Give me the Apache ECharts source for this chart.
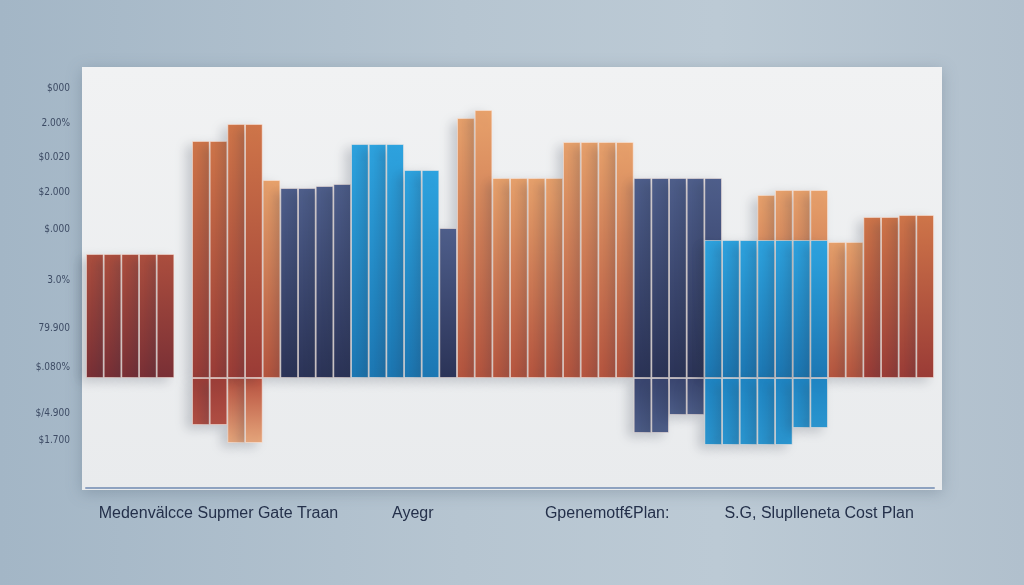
<!DOCTYPE html>
<html><head><meta charset="utf-8">
<script src="https://cdn.jsdelivr.net/npm/echarts@6/dist/echarts.min.js"></script>
<style>
html,body{margin:0;padding:0;width:1024px;height:585px;overflow:hidden;
background:linear-gradient(90deg,#a3b6c6 0%,#b6c5d1 45%,#bccad5 70%,#b1c0cd 100%);}
#c{width:1024px;height:585px;}
</style>
</head><body><div id="c"></div>
<script>
// ---- data ----
const slots = ['S1','S2','S3','S4','S5','S6','S7','S8','S9','S10','S11','S12','S13','S14','S15','S16',
  'S17','S18','S19','S20','S21','S22','S23','S24','S25','S26','S27','S28','S29','S30','S31','S32',
  'S33','S34','S35','S36','S37','S38','S39','S40','S41','S42','S43','S44','S45','S46','S47','S48'];
const xLabelSlots = [7, 18, 29, 41];
const xLabels = ['Medenvälcce Supmer Gate Traan', 'Ayegr', 'Gpenemotf€Plan:', 'S.G, Sluplleneta Cost Plan'];
const yTickValues = [290, 255, 221, 186, 149, 98, 50, 11, -35, -62];
const yTickLabels = ['$000', '2.00%', '$0.020', '$2.000', '$.000', '3.0%', '79.900', '$.080%', '$/4.900', '$1.700'];

const darkRedTop = [[0,124],[1,124],[2,124],[3,124],[4,124]];
const orangeRedTop = [[6,237],[7,237],[8,254],[9,254],[44,161],[45,161],[46,163],[47,163]];
const orangeRedBottom = [[6,-47],[7,-47]];
const lightOrangeTop = [[10,198],[21,260],[22,268],[23,200],[24,200],[25,200],[26,200],[27,236],[28,236],[29,236],[30,236],
  [38,183],[39,188],[40,188],[41,188],[42,136],[43,136]];
const lightOrangeBottom = [[8,-65],[9,-65]];
const navyTop = [[11,190],[12,190],[13,192],[14,194],[20,150],[31,200],[32,200],[33,200],[34,200],[35,200]];
const navyBottom = [[31,-55],[32,-55],[33,-37],[34,-37]];
const blueTop = [[15,234],[16,234],[17,234],[18,208],[19,208],[35,138],[36,138],[37,138],[38,138],[39,138],[40,138],[41,138]];
const blueBottom = [[35,-67],[36,-67],[37,-67],[38,-67],[39,-67],[40,-50],[41,-50]];

// ---- chart ----
function grad(c1, c2) {
  return {type:'linear', x:0, y:0, x2:0, y2:1, colorStops:[{offset:0,color:c1},{offset:1,color:c2}]};
}
function barSeries(name, data, c1, c2) {
  return {
    name, type:'bar', data, barGap:'-100%', barCategoryGap:'0%',
    itemStyle:{color:grad(c1,c2), borderColor:'rgba(255,236,225,0.5)', borderWidth:1,
      shadowColor:'rgba(40,50,70,0.22)', shadowBlur:12, shadowOffsetX:-6, shadowOffsetY:4},
    emphasis:{disabled:true}
  };
}
const chart = echarts.init(document.getElementById('c'), null, {renderer:'canvas'});
chart.setOption({
  animation:false,
  backgroundColor:'transparent',
  graphic:[{
    type:'rect', z:-10, silent:true,
    shape:{x:82, y:67, width:860, height:423},
    style:{fill:grad('#f1f2f3','#e9ebed'), shadowBlur:14, shadowColor:'rgba(50,70,90,0.25)', shadowOffsetY:3}
  }],
  grid:{left:86, right:90, top:67, bottom:97},
  xAxis:{
    type:'category', data:slots,
    axisLine:{onZero:false, lineStyle:{color:'#8ea2c0', width:2}},
    axisTick:{show:false},
    axisLabel:{interval:0, margin:18, fontSize:16, color:'#24304a', fontFamily:'Liberation Sans, Arial, sans-serif',
      formatter:(v, i) => { const k = xLabelSlots.indexOf(i); return k >= 0 ? xLabels[k] : ''; }},
    splitLine:{show:false}
  },
  yAxis:{
    type:'value', min:-110, max:311,
    axisLine:{show:false}, axisTick:{show:false},
    splitLine:{show:false},
    axisLabel:{customValues:yTickValues, margin:16, fontSize:10, color:'#3d4b64',
      fontFamily:'Liberation Sans Narrow, DejaVu Sans Condensed, sans-serif',
      formatter:(v) => { const k = yTickValues.indexOf(v); return k >= 0 ? yTickLabels[k] : ''; }}
  },
  series:[
    barSeries('lightOrangeTop', lightOrangeTop, '#e8a26c', '#b6553f'),
    barSeries('lightOrangeBottom', lightOrangeBottom, '#b8503f', '#e6a77c'),
    barSeries('orangeRedTop', orangeRedTop, '#d0764a', '#9b3c37'),
    barSeries('orangeRedBottom', orangeRedBottom, '#9c3e38', '#b14f44'),
    barSeries('darkRedTop', darkRedTop, '#ad4f3f', '#7a3036'),
    barSeries('navyTop', navyTop, '#4f5f8c', '#2c3458'),
    barSeries('navyBottom', navyBottom, '#3a4670', '#4d5d88'),
    barSeries('blueTop', blueTop, '#2ea4e0', '#1d78b4'),
    barSeries('blueBottom', blueBottom, '#1f86c4', '#2b96d0')
  ]
});
</script></body></html>
